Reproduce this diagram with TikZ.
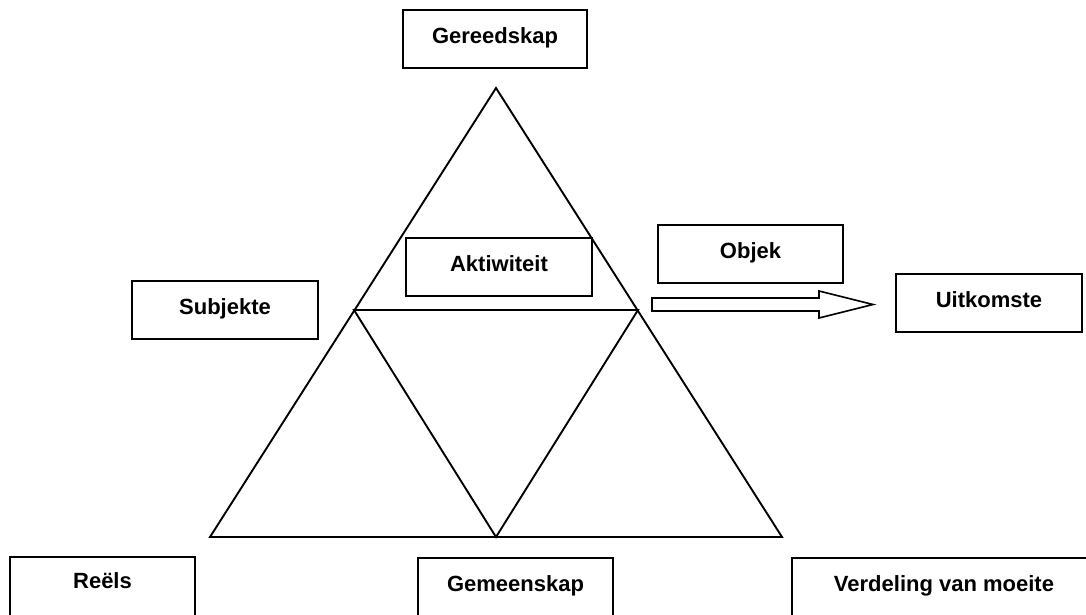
\documentclass[tikz,border=0pt]{standalone}
\usepackage{fontspec}
\setmainfont{Liberation Sans}
\begin{document}
\begin{tikzpicture}[x=1pt,y=-1pt,
  lbl/.style={draw=black,line width=1.9pt,rectangle,inner sep=0pt,
    font=\fontsize{22}{26}\selectfont\bfseries,align=center},
  tri/.style={line width=1.9pt,line join=miter}]
\useasboundingbox (0,0) rectangle (1086,614);
\clip (0,0) rectangle (1086,614);
% triangle
\coordinate (A) at (496,88);
\coordinate (B) at (210,537);
\coordinate (C) at (782,537);
\coordinate (L) at (354,310);
\coordinate (R) at (638,310);
\coordinate (M) at (496,537);
\draw[tri] (A) -- (B) -- (C) -- cycle;
\draw[tri] (L) -- (R) -- (M) -- cycle;
% boxes
\node[lbl,minimum width=184,minimum height=58] (ger) at (495,39) {\raisebox{6pt}{Gereedskap}};
\node[lbl,minimum width=186,minimum height=58] (akt) at (499,267) {\raisebox{7pt}{Aktiwiteit}};
\node[lbl,minimum width=185,minimum height=58] (obj) at (750.5,254) {\raisebox{6pt}{Objek}};
\node[lbl,minimum width=186,minimum height=58] (uit) at (989,303) {\raisebox{6pt}{Uitkomste}};
\node[lbl,minimum width=186,minimum height=58] (sub) at (225,310) {\raisebox{6pt}{Subjekte}};
\node[lbl,minimum width=185,minimum height=90] (ree) at (102.5,602) {\raisebox{43pt}{Reëls}};
\node[lbl,minimum width=195,minimum height=90] (gem) at (515.5,603) {\raisebox{39pt}{Gemeenskap}};
\node[lbl,minimum width=304,minimum height=90] (ver) at (944,603) {\raisebox{39pt}{Verdeling van moeite}};
% block arrow
\coordinate (a1) at (652,298);
\coordinate (a2) at (819,298);
\coordinate (a3) at (819,291);
\coordinate (a4) at (873,304.5);
\coordinate (a5) at (819,318);
\coordinate (a6) at (819,311);
\coordinate (a7) at (652,311);
\draw[line width=1.6pt,line join=miter] (a1) -- (a2) -- (a3) -- (a4) -- (a5) -- (a6) -- (a7) -- cycle;
\end{tikzpicture}
\end{document}
